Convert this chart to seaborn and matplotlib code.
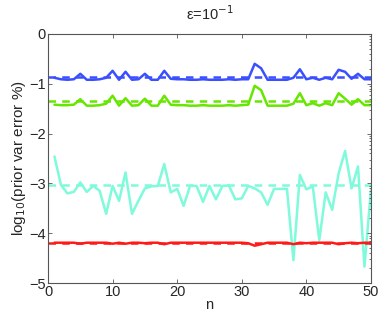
import numpy as np
import pandas as pd
import matplotlib
matplotlib.use("Agg")
import matplotlib.pyplot as plt
import seaborn as sns
from matplotlib.ticker import NullFormatter

# values (log10 of prior var error %)
n = list(range(1, 51))
blue = [-0.88, -0.91, -0.92, -0.91, -0.80, -0.92, -0.92, -0.91, -0.88, -0.74,
        -0.92, -0.76, -0.92, -0.91, -0.80, -0.92, -0.92, -0.74, -0.90, -0.91,
        -0.91, -0.92, -0.92, -0.91, -0.92, -0.92, -0.92, -0.91, -0.92, -0.91,
        -0.91, -0.60, -0.69, -0.92, -0.92, -0.92, -0.92, -0.88, -0.71, -0.91,
        -0.88, -0.92, -0.88, -0.91, -0.72, -0.76, -0.90, -0.80, -0.91, -0.91]
green = [-1.42, -1.43, -1.43, -1.42, -1.31, -1.44, -1.44, -1.43, -1.40, -1.24,
         -1.44, -1.29, -1.44, -1.43, -1.30, -1.44, -1.44, -1.24, -1.42, -1.43,
         -1.43, -1.44, -1.44, -1.43, -1.44, -1.44, -1.44, -1.43, -1.44, -1.43,
         -1.42, -1.04, -1.13, -1.44, -1.44, -1.44, -1.44, -1.40, -1.19, -1.43,
         -1.39, -1.44, -1.39, -1.43, -1.19, -1.30, -1.42, -1.31, -1.43, -1.43]
cyan = [-2.46, -3.03, -3.20, -3.17, -2.98, -3.17, -3.05, -3.15, -3.61, -3.05,
        -3.35, -2.78, -3.61, -3.35, -3.10, -3.06, -3.05, -2.61, -3.18, -3.11,
        -3.45, -3.05, -3.05, -3.37, -3.05, -3.32, -3.05, -3.04, -3.32, -3.30,
        -3.05, -3.10, -3.18, -3.43, -3.11, -3.11, -3.11, -4.54, -2.83, -3.12,
        -3.06, -4.14, -3.18, -3.53, -2.80, -2.35, -3.10, -2.66, -4.67, -3.14]
red = [-4.19, -4.19, -4.19, -4.19, -4.21, -4.19, -4.19, -4.19, -4.19, -4.21,
       -4.19, -4.21, -4.19, -4.19, -4.20, -4.19, -4.19, -4.22, -4.19, -4.19,
       -4.19, -4.19, -4.19, -4.19, -4.19, -4.19, -4.19, -4.19, -4.19, -4.19,
       -4.20, -4.25, -4.22, -4.19, -4.19, -4.19, -4.19, -4.22, -4.19, -4.20,
       -4.19, -4.19, -4.19, -4.19, -4.22, -4.20, -4.19, -4.20, -4.19, -4.19]
means = {"blue": -0.86, "green": -1.35, "cyan": -3.03, "red": -4.19}
xticks = [0, 10, 20, 30, 40, 50]
yticks = [-5, -4, -3, -2, -1, 0]

colors = {"blue": "#3a50ff", "green": "#66e600", "cyan": "#7ffadb", "red": "#ff1a1a"}

df = pd.DataFrame({"n": n, "blue": blue, "green": green, "cyan": cyan, "red": red})
long = df.melt(id_vars="n", var_name="series", value_name="val")

sns.set_style("ticks")
plt.rcParams["font.family"] = ["Liberation Sans", "DejaVu Sans"]

fig = plt.figure(figsize=(3.82, 3.17), dpi=100)
ax = fig.add_axes([0.1257, 0.107, 0.8453, 0.786])

sns.lineplot(data=long, x="n", y="val", hue="series", palette=colors,
             linewidth=1.8, legend=False, ax=ax)
for key, v in means.items():
    ax.axhline(v, color=colors[key], linestyle=(0, (3, 2.5)), linewidth=1.8)

ax.set_xlim(0, 50)
ax.set_ylim(-5, 0)
ax.set_xticks(xticks)
ax.set_yticks(yticks)
ax.set_yticklabels([str(t).replace("-", "\u2212") for t in yticks], fontsize=10.5)
ax.tick_params(axis="x", labelsize=10.5)
ax.tick_params(direction="in", length=3, width=0.6, color="#555555", top=True, pad=1.5)
for s in ax.spines.values():
    s.set_color("#555555")
    s.set_linewidth(0.8)

ax.set_xlabel("n", fontsize=10.5, labelpad=-1)
ax.set_ylabel("log$_{10}$(prior var error %)", fontsize=11, labelpad=1)
ax.set_title("\u03b5=10$^{-1}$", fontsize=10.5, pad=10)

# log-scaled right axis (only ticks)
ax2 = ax.twinx()
ax2.set_yscale("log")
ax2.set_ylim(1e-5, 1)
ax2.tick_params(axis="y", which="both", direction="in", color="#555555", width=0.6)
ax2.tick_params(axis="y", which="major", length=3)
ax2.tick_params(axis="y", which="minor", length=1.5)
ax2.yaxis.set_major_formatter(NullFormatter())
ax2.yaxis.set_minor_formatter(NullFormatter())
for s in ax2.spines.values():
    s.set_visible(False)

fig.savefig("out.png", dpi=100)
